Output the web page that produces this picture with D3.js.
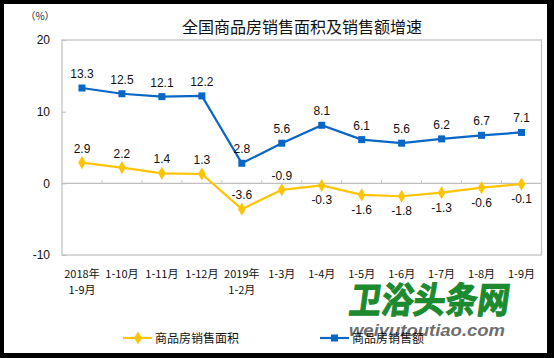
<!DOCTYPE html>
<html>
<head>
<meta charset="utf-8">
<script src="https://cdn.jsdelivr.net/npm/d3@7"></script>
<style>
  body { margin: 0; background: #000; }
  svg { display: block; }
  text { font-family: "Liberation Sans", Arial, sans-serif; }
  .cjk { font-family: "Noto Sans CJK SC", sans-serif; }
</style>
</head>
<body>
<svg id="chart" width="554" height="358"></svg>
<script>
// ===== data =====
var categories = ["2018年|1-9月", "1-10月", "1-11月", "1-12月", "2019年|1-2月", "1-3月",
  "1-4月", "1-5月", "1-6月", "1-7月", "1-8月", "1-9月"];
var areaGrowth = [2.9, 2.2, 1.4, 1.3, -3.6, -0.9, -0.3, -1.6, -1.8, -1.3, -0.6, -0.1];
var salesGrowth = [13.3, 12.5, 12.1, 12.2, 2.8, 5.6, 8.1, 6.1, 5.6, 6.2, 6.7, 7.1];
var yTicks = [-10, 0, 10, 20];
var seriesNames = ["商品房销售面积", "商品房销售额"];
var titleText = "全国商品房销售面积及销售额增速";

var yellow = "#FFC400", blue = "#0866C6";

// plain hyphen for negatives, like the original
function fmt(d) { return d.toFixed(1); }

var svg = d3.select("#chart");

// black frame around the white card
svg.append("rect").attr("width", 554).attr("height", 358).attr("fill", "#000");
svg.append("rect").attr("x", 4).attr("y", 4).attr("width", 543).attr("height", 349).attr("fill", "#fff");

var plot = { left: 62, right: 541.5, top: 40, bottom: 255 };

var x = d3.scaleBand().domain(d3.range(categories.length)).range([plot.left, plot.right]);
var y = d3.scaleLinear().domain([-10, 20]).range([plot.bottom, plot.top]);
var cx = function (i) { return x(i) + x.bandwidth() / 2; };

// title
svg.append("text").attr("class", "cjk")
  .attr("x", 302).attr("y", 33).attr("text-anchor", "middle")
  .attr("font-size", 16).attr("fill", "#111").text(titleText);

svg.append("text").attr("class", "cjk")
  .attr("x", 40).attr("y", 20).attr("text-anchor", "middle")
  .attr("font-size", 10).attr("fill", "#222").text("（%）");

// plot frame
svg.append("rect")
  .attr("x", plot.left).attr("y", plot.top)
  .attr("width", plot.right - plot.left).attr("height", plot.bottom - plot.top)
  .attr("fill", "none").attr("stroke", "#BFBFBF").attr("stroke-width", 1.2);

// y axis labels + small ticks
var yAxis = d3.axisLeft(y).tickValues(yTicks).tickSize(-4).tickPadding(12)
  .tickFormat(function (d) { return String(d); });
var gy = svg.append("g").attr("transform", "translate(" + plot.left + ",0)").call(yAxis);
gy.select(".domain").remove();
gy.selectAll(".tick line").attr("stroke", "#BFBFBF");
gy.selectAll(".tick text").attr("font-size", 12).attr("fill", "#111")
  .attr("font-family", "Liberation Sans, Arial, sans-serif");

// zero line with category ticks pointing up
svg.append("line")
  .attr("x1", plot.left).attr("x2", plot.right)
  .attr("y1", y(0)).attr("y2", y(0))
  .attr("stroke", "#BFBFBF").attr("stroke-width", 1.2);
d3.range(1, categories.length).forEach(function (i) {
  svg.append("line")
    .attr("x1", x(i)).attr("x2", x(i))
    .attr("y1", y(0)).attr("y2", y(0) - 3)
    .attr("stroke", "#BFBFBF");
});

// category labels under the plot
categories.forEach(function (c, i) {
  var lines = c.split("|");
  var t = svg.append("text").attr("class", "cjk")
    .attr("x", cx(i)).attr("y", 278).attr("text-anchor", "middle")
    .attr("font-size", 11).attr("fill", "#111");
  lines.forEach(function (l, k) {
    t.append("tspan").attr("x", cx(i)).attr("dy", k === 0 ? 0 : 16).text(l);
  });
});

// watermark
svg.append("text").attr("class", "cjk")
  .attr("x", 350).attr("y", 313)
  .attr("font-size", 36).attr("font-weight", "bold")
  .attr("textLength", 160).attr("lengthAdjust", "spacingAndGlyphs")
  .attr("fill", "#1C8A2E").attr("stroke", "#1C8A2E").attr("stroke-width", 1.2)
  .attr("transform", "translate(42,0) skewX(-8)")
  .text("卫浴头条网");
svg.append("text")
  .attr("x", 349).attr("y", 336)
  .attr("font-size", 16).attr("font-weight", "bold").attr("font-style", "italic")
  .attr("textLength", 156).attr("lengthAdjust", "spacingAndGlyphs")
  .attr("fill", "#6E6E6E")
  .text("weiyutoutiao.com");

var line = d3.line().x(function (d, i) { return cx(i); }).y(function (d) { return y(d); });

// sales series (blue, squares)
svg.append("path").datum(salesGrowth).attr("d", line)
  .attr("fill", "none").attr("stroke", blue).attr("stroke-width", 2.2);
svg.selectAll(".sq").data(salesGrowth).enter().append("rect")
  .attr("x", function (d, i) { return cx(i) - 3.5; })
  .attr("y", function (d) { return y(d) - 3.5; })
  .attr("width", 7).attr("height", 7).attr("fill", blue);
svg.selectAll(".slab").data(salesGrowth).enter().append("text")
  .attr("x", function (d, i) { return cx(i); })
  .attr("y", function (d) { return y(d) - 10; })
  .attr("text-anchor", "middle").attr("font-size", 12).attr("fill", "#111")
  .text(fmt);

// area series (yellow, diamonds)
svg.append("path").datum(areaGrowth).attr("d", line)
  .attr("fill", "none").attr("stroke", yellow).attr("stroke-width", 2.2);
var diamond = d3.symbol().type(d3.symbolDiamond).size(50);
svg.selectAll(".dm").data(areaGrowth).enter().append("path")
  .attr("d", diamond)
  .attr("transform", function (d, i) { return "translate(" + cx(i) + "," + y(d) + ")"; })
  .attr("fill", yellow);
svg.selectAll(".alab").data(areaGrowth).enter().append("text")
  .attr("x", function (d, i) { return cx(i); })
  .attr("y", function (d, i) { return i < 6 ? y(d) - 10 : y(d) + 19; })
  .attr("text-anchor", "middle").attr("font-size", 12).attr("fill", "#111")
  .text(fmt);

// legend
var legend = [
  { name: seriesNames[0], color: yellow, x: 123, sym: "diamond" },
  { name: seriesNames[1], color: blue, x: 320, sym: "square" }
];
legend.forEach(function (l) {
  var g = svg.append("g").attr("transform", "translate(" + l.x + ",338)");
  g.append("line").attr("x1", 0).attr("x2", 29).attr("stroke", l.color).attr("stroke-width", 2.2);
  if (l.sym === "diamond") {
    g.append("path").attr("d", diamond).attr("transform", "translate(15,0)").attr("fill", l.color);
  } else {
    g.append("rect").attr("x", 11).attr("y", -3.5).attr("width", 7).attr("height", 7).attr("fill", l.color);
  }
  g.append("text").attr("class", "cjk").attr("x", 32).attr("y", 4.5)
    .attr("font-size", 12).attr("fill", "#111").text(l.name);
});
</script>
</body>
</html>
